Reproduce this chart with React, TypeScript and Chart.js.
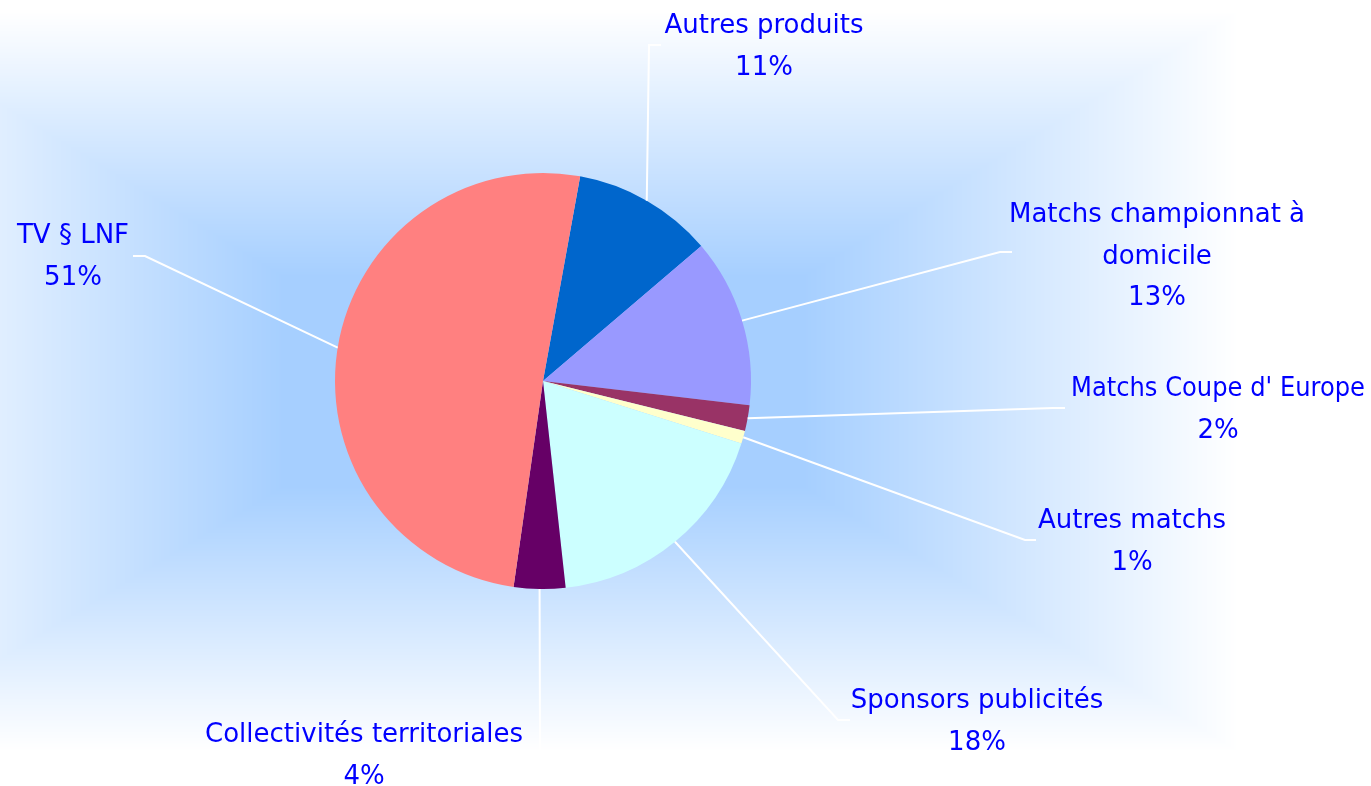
import React, { useEffect, useRef } from "react";
import { Chart, registerables } from "chart.js";

Chart.register(...registerables);

// ---- data ----
const CATEGORIES: string[] = [
  "Autres produits",
  "Matchs championnat à domicile",
  "Matchs Coupe d' Europe",
  "Autres matchs",
  "Sponsors publicités",
  "Collectivités territoriales",
  "TV § LNF",
];
const VALUES: number[] = [10.9, 13.1, 2.0, 1.0, 18.4, 4.0, 50.6];
const COLORS: string[] = ["#0066CC", "#9999FF", "#993366", "#FFFFCC", "#CCFFFF", "#660066", "#FF8080"];

// ---- label layout (text placement / leader elbows, canvas px) ----
const LABEL_LAYOUT = [
  { elbow: [649, 45], end: [661, 45], cx: 764, by: 33, wrap: 9999, maxW: 9999 },
  { elbow: [1000, 252], end: [1012, 252], cx: 1157, by: 222, wrap: 300, maxW: 9999 },
  { elbow: [1053, 408], end: [1065, 408], cx: 1218, by: 396, wrap: 9999, maxW: 294 },
  { elbow: [1025, 540], end: [1036, 540], cx: 1132, by: 528, wrap: 9999, maxW: 9999 },
  { elbow: [838, 720], end: [850, 720], cx: 977, by: 708, wrap: 9999, maxW: 9999 },
  { elbow: [540, 753], end: [526, 753], cx: 364, by: 742, wrap: 9999, maxW: 9999 },
  { elbow: [145, 256], end: [133, 256], cx: 73, by: 243, wrap: 9999, maxW: 9999 },
];

const W = 1371;
const H = 786;
const FONT = '26px "DejaVu Sans"';
const TEXT_COLOR = "#0000FF";
const LINE_H = 41.5;

function wrapText(ctx: CanvasRenderingContext2D, text: string, maxW: number): string[] {
  const words = text.split(" ");
  const lines: string[] = [];
  let cur = "";
  for (const w of words) {
    const t = cur ? cur + " " + w : w;
    if (cur && ctx.measureText(t).width > maxW) {
      lines.push(cur);
      cur = w;
    } else cur = t;
  }
  if (cur) lines.push(cur);
  return lines;
}

let bgCache: HTMLCanvasElement | null = null;
function getBackground(w: number, h: number, cx: number, cy: number): HTMLCanvasElement {
  if (bgCache && bgCache.width === w && bgCache.height === h) return bgCache;
  const c = document.createElement("canvas");
  c.width = w;
  c.height = h;
  const g = c.getContext("2d")!;
  const img = g.createImageData(w, h);
  const inner = [166, 207, 255];
  const plateauX = 260, plateauY = 105, fallX = 435, fallY = 265;
  for (let y = 0; y < h; y++) {
    const v = Math.min(1, Math.max(0, (Math.abs(y - cy) - plateauY) / fallY));
    for (let x = 0; x < w; x++) {
      const u = Math.min(1, Math.max(0, (Math.abs(x - cx) - plateauX) / fallX));
      const t = Math.max(u, v);
      const i = (y * w + x) * 4;
      img.data[i] = inner[0] + (255 - inner[0]) * t;
      img.data[i + 1] = inner[1] + (255 - inner[1]) * t;
      img.data[i + 2] = inner[2] + (255 - inner[2]) * t;
      img.data[i + 3] = 255;
    }
  }
  g.putImageData(img, 0, 0);
  bgCache = c;
  return c;
}

const backgroundPlugin = {
  id: "bgGradient",
  beforeDraw(chart: any) {
    const ca = chart.chartArea;
    const cx = (ca.left + ca.right) / 2;
    const cy = (ca.top + ca.bottom) / 2;
    const bg = getBackground(chart.width, chart.height, cx, cy);
    chart.ctx.drawImage(bg, 0, 0);
  },
};

const labelPlugin = {
  id: "outsideLabels",
  afterDatasetsDraw(chart: any) {
    const ctx: CanvasRenderingContext2D = chart.ctx;
    const meta = chart.getDatasetMeta(0);
    ctx.save();
    ctx.strokeStyle = "#FFFFFF";
    ctx.lineWidth = 2;
    meta.data.forEach((arc: any, i: number) => {
      const lay = LABEL_LAYOUT[i];
      const mid = (arc.startAngle + arc.endAngle) / 2;
      const sx = arc.x + Math.cos(mid) * arc.outerRadius;
      const sy = arc.y + Math.sin(mid) * arc.outerRadius;
      ctx.beginPath();
      ctx.moveTo(sx, sy);
      ctx.lineTo(lay.elbow[0], lay.elbow[1]);
      ctx.lineTo(lay.end[0], lay.end[1]);
      ctx.stroke();
    });
    ctx.font = FONT;
    ctx.fillStyle = TEXT_COLOR;
    ctx.textAlign = "center";
    ctx.textBaseline = "alphabetic";
    const data = chart.data.datasets[0].data as number[];
    chart.data.labels.forEach((name: string, i: number) => {
      const lay = LABEL_LAYOUT[i];
      const lines = wrapText(ctx, name, lay.wrap);
      lines.push(Math.round(data[i]) + "%");
      lines.forEach((ln, k) => {
        ctx.fillText(ln, lay.cx, lay.by + k * LINE_H, lay.maxW);
      });
    });
    ctx.restore();
  },
};

export default function App() {
  const ref = useRef<HTMLCanvasElement | null>(null);
  useEffect(() => {
    document.body.style.margin = "0";
    const canvas = ref.current!;
    const chart = new Chart(canvas, {
      type: "pie",
      data: {
        labels: CATEGORIES,
        datasets: [
          {
            data: VALUES,
            backgroundColor: COLORS,
            borderWidth: 0,
          },
        ],
      },
      options: {
        responsive: false,
        animation: false,
        rotation: 10.3,
        layout: { padding: { left: 335, top: 173, right: 620, bottom: 197 } },
        plugins: {
          legend: { display: false },
          tooltip: { enabled: false },
        },
        events: [],
      },
      plugins: [backgroundPlugin, labelPlugin],
    });
    return () => chart.destroy();
  }, []);
  return <canvas ref={ref} width={W} height={H} style={{ display: "block" }} />;
}
